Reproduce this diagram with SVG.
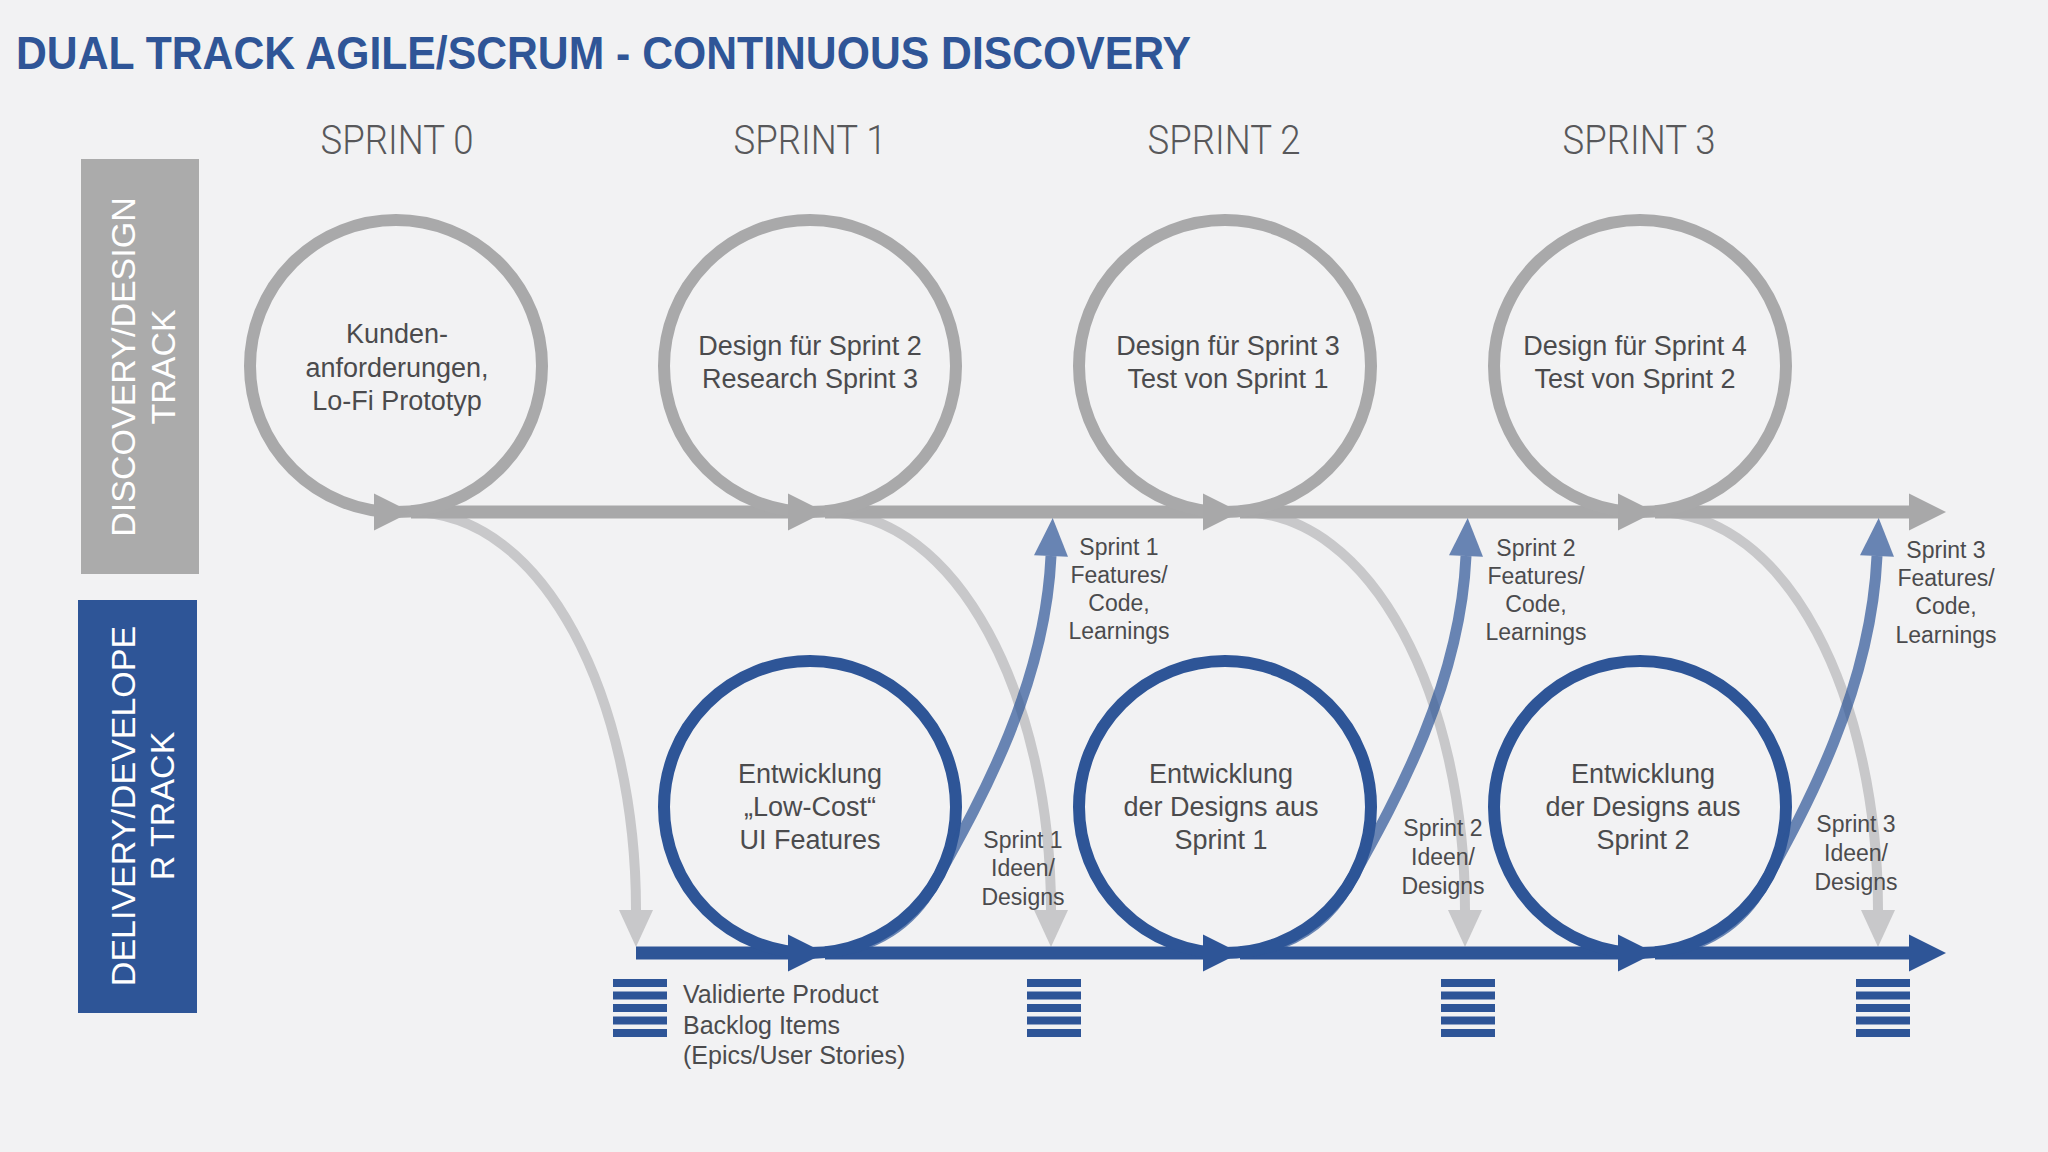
<svg xmlns="http://www.w3.org/2000/svg" width="2048" height="1152" viewBox="0 0 2048 1152">
<style>
.t{font-family:"Liberation Sans",Arial,sans-serif;fill:#4b4b4d;text-anchor:middle}
.ct{font-size:27px}
.lb{font-size:23px}
.hd{font-family:Roboto,"Liberation Sans",Arial,sans-serif;font-weight:300;font-size:40px;fill:#58585a;text-anchor:middle}
.side{font-family:"Liberation Sans",Arial,sans-serif;font-size:34px;fill:#ffffff;text-anchor:middle}
.ringG{fill:none;stroke:#a9a9aa;stroke-width:12}
.ringB{fill:none;stroke:#2e5597;stroke-width:12}
.trkG{stroke:#a8a8a9;stroke-width:13;fill:none}
.trkB{stroke:#2e5597;stroke-width:13;fill:none}
.dn{stroke:#c8c8ca;stroke-width:10;fill:none}
.up{stroke:#2e5597;stroke-opacity:0.7;stroke-width:11;fill:none}
.bar{fill:#2e5597}
</style>
<defs>
<marker id="aG" markerUnits="userSpaceOnUse" markerWidth="40" markerHeight="40" refX="0" refY="18.5" orient="auto" overflow="visible"><path d="M0,0 L37,18.5 L0,37 z" fill="#a8a8a9"/></marker>
<marker id="aB" markerUnits="userSpaceOnUse" markerWidth="40" markerHeight="40" refX="0" refY="18.5" orient="auto" overflow="visible"><path d="M0,0 L37,18.5 L0,37 z" fill="#2e5597"/></marker>
<marker id="aD" markerUnits="userSpaceOnUse" markerWidth="40" markerHeight="40" refX="0" refY="17" orient="auto" overflow="visible"><path d="M0,0 L37,17 L0,34 z" fill="#c8c8ca"/></marker>
<marker id="aU" markerUnits="userSpaceOnUse" markerWidth="40" markerHeight="40" refX="0" refY="17" orient="auto" overflow="visible"><path d="M0,0 L38,17 L0,34 z" fill="#2e5597" fill-opacity="0.7"/></marker>
<g id="backlog"><rect class="bar" x="0" y="0" width="54" height="8"/><rect class="bar" x="0" y="12.5" width="54" height="8"/><rect class="bar" x="0" y="25" width="54" height="8"/><rect class="bar" x="0" y="37.5" width="54" height="8"/><rect class="bar" x="0" y="50" width="54" height="8"/></g>
</defs>
<rect width="2048" height="1152" fill="#f2f2f3"/>

<text id="title" x="16" y="69" font-family="Liberation Sans, Arial, sans-serif" font-size="46" font-weight="bold" fill="#2f5597" textLength="1175" lengthAdjust="spacingAndGlyphs">DUAL TRACK AGILE/SCRUM - CONTINUOUS DISCOVERY</text>

<g id="headers">
<text class="hd" x="397" y="154" textLength="153" lengthAdjust="spacingAndGlyphs">SPRINT 0</text>
<text class="hd" x="810" y="154" textLength="153" lengthAdjust="spacingAndGlyphs">SPRINT 1</text>
<text class="hd" x="1224" y="154" textLength="153" lengthAdjust="spacingAndGlyphs">SPRINT 2</text>
<text class="hd" x="1639" y="154" textLength="153" lengthAdjust="spacingAndGlyphs">SPRINT 3</text>
</g>

<g id="discovery-track-label">
<rect x="81" y="159" width="118" height="415" fill="#ababab"/>
<text class="side" transform="translate(135,367) rotate(-90)">DISCOVERY/DESIGN</text>
<text class="side" transform="translate(175,367) rotate(-90)">TRACK</text>
</g>
<g id="delivery-track-label">
<rect x="78" y="600" width="119" height="413" fill="#2e5597"/>
<text class="side" transform="translate(135,806) rotate(-90)">DELIVERY/DEVELOPE</text>
<text class="side" transform="translate(174,806) rotate(-90)">R TRACK</text>
</g>

<g id="connectors">
<path class="dn" d="M411,512 C545,512 636,700 636,910" marker-end="url(#aD)"/>
<path class="dn" d="M825,512 C959,512 1051,700 1051,910" marker-end="url(#aD)"/>
<path class="dn" d="M1240,512 C1374,512 1465,700 1465,910" marker-end="url(#aD)"/>
<path class="dn" d="M1655,512 C1789,512 1878,700 1878,910" marker-end="url(#aD)"/>
<line class="trkG" x1="411" y1="512" x2="788" y2="512"/>
<line class="trkG" x1="825" y1="512" x2="1203" y2="512"/>
<line class="trkG" x1="1240" y1="512" x2="1618" y2="512"/>
<line class="trkG" x1="1655" y1="512" x2="1909" y2="512" marker-end="url(#aG)"/>
<line class="trkB" x1="636" y1="953" x2="788" y2="953"/>
<line class="trkB" x1="825" y1="953" x2="1203" y2="953"/>
<line class="trkB" x1="1240" y1="953" x2="1618" y2="953"/>
<line class="trkB" x1="1655" y1="953" x2="1909" y2="953" marker-end="url(#aB)"/>
</g>

<g id="d0"><circle class="ringG" cx="396" cy="366" r="146"/><path d="M374,493.5 L411,512 L374,530.5 z" fill="#a8a8a9"/>
<text class="t ct" x="397" y="343">Kunden-</text><text class="t ct" x="397" y="377">anforderungen,</text><text class="t ct" x="397" y="410">Lo-Fi Prototyp</text></g>
<g id="d1"><circle class="ringG" cx="810" cy="366" r="146"/><path d="M788,493.5 L825,512 L788,530.5 z" fill="#a8a8a9"/>
<text class="t ct" x="810" y="355">Design für Sprint 2</text><text class="t ct" x="810" y="388">Research Sprint 3</text></g>
<g id="d2"><circle class="ringG" cx="1225" cy="366" r="146"/><path d="M1203,493.5 L1240,512 L1203,530.5 z" fill="#a8a8a9"/>
<text class="t ct" x="1228" y="355">Design für Sprint 3</text><text class="t ct" x="1228" y="388">Test von Sprint 1</text></g>
<g id="d3"><circle class="ringG" cx="1640" cy="366" r="146"/><path d="M1618,493.5 L1655,512 L1618,530.5 z" fill="#a8a8a9"/>
<text class="t ct" x="1635" y="355">Design für Sprint 4</text><text class="t ct" x="1635" y="388">Test von Sprint 2</text></g>

<g id="b1"><circle class="ringB" cx="810" cy="807" r="146"/><path d="M788,934.5 L825,953 L788,971.5 z" fill="#2e5597"/>
<text class="t ct" x="810" y="783">Entwicklung</text><text class="t ct" x="810" y="816">„Low-Cost“</text><text class="t ct" x="810" y="849">UI Features</text></g>
<g id="b2"><circle class="ringB" cx="1225" cy="807" r="146"/><path d="M1203,934.5 L1240,953 L1203,971.5 z" fill="#2e5597"/>
<text class="t ct" x="1221" y="783">Entwicklung</text><text class="t ct" x="1221" y="816">der Designs aus</text><text class="t ct" x="1221" y="849">Sprint 1</text></g>
<g id="b3"><circle class="ringB" cx="1640" cy="807" r="146"/><path d="M1618,934.5 L1655,953 L1618,971.5 z" fill="#2e5597"/>
<text class="t ct" x="1643" y="783">Entwicklung</text><text class="t ct" x="1643" y="816">der Designs aus</text><text class="t ct" x="1643" y="849">Sprint 2</text></g>

<g id="feedback-connectors">
<path class="up" d="M825,953 Q900,945 934,884 C975,810 1045,690 1051,556" marker-end="url(#aU)"/>
<path class="up" d="M1240,953 Q1315,945 1349,884 C1390,810 1460,690 1466,556" marker-end="url(#aU)"/>
<path class="up" d="M1655,953 Q1730,945 1764,884 C1805,810 1871,690 1877,556" marker-end="url(#aU)"/>
</g>

<g id="labels">
<text class="t lb" x="1119" y="555">Sprint 1</text><text class="t lb" x="1119" y="583">Features/</text><text class="t lb" x="1119" y="611">Code,</text><text class="t lb" x="1119" y="639">Learnings</text>
<text class="t lb" x="1536" y="556">Sprint 2</text><text class="t lb" x="1536" y="584">Features/</text><text class="t lb" x="1536" y="612">Code,</text><text class="t lb" x="1536" y="640">Learnings</text>
<text class="t lb" x="1946" y="558">Sprint 3</text><text class="t lb" x="1946" y="586">Features/</text><text class="t lb" x="1946" y="614">Code,</text><text class="t lb" x="1946" y="643">Learnings</text>
<text class="t lb" x="1023" y="848">Sprint 1</text><text class="t lb" x="1023" y="876">Ideen/</text><text class="t lb" x="1023" y="905">Designs</text>
<text class="t lb" x="1443" y="836">Sprint 2</text><text class="t lb" x="1443" y="865">Ideen/</text><text class="t lb" x="1443" y="894">Designs</text>
<text class="t lb" x="1856" y="832">Sprint 3</text><text class="t lb" x="1856" y="861">Ideen/</text><text class="t lb" x="1856" y="890">Designs</text>
</g>

<g id="backlog-items">
<use href="#backlog" x="613" y="979"/>
<use href="#backlog" x="1027" y="979"/>
<use href="#backlog" x="1441" y="979"/>
<use href="#backlog" x="1856" y="979"/>
<text class="t" x="683" y="1003" font-size="25" style="text-anchor:start">Validierte Product</text>
<text class="t" x="683" y="1034" font-size="25" style="text-anchor:start">Backlog Items</text>
<text class="t" x="683" y="1064" font-size="25" style="text-anchor:start">(Epics/User Stories)</text>
</g>
</svg>
